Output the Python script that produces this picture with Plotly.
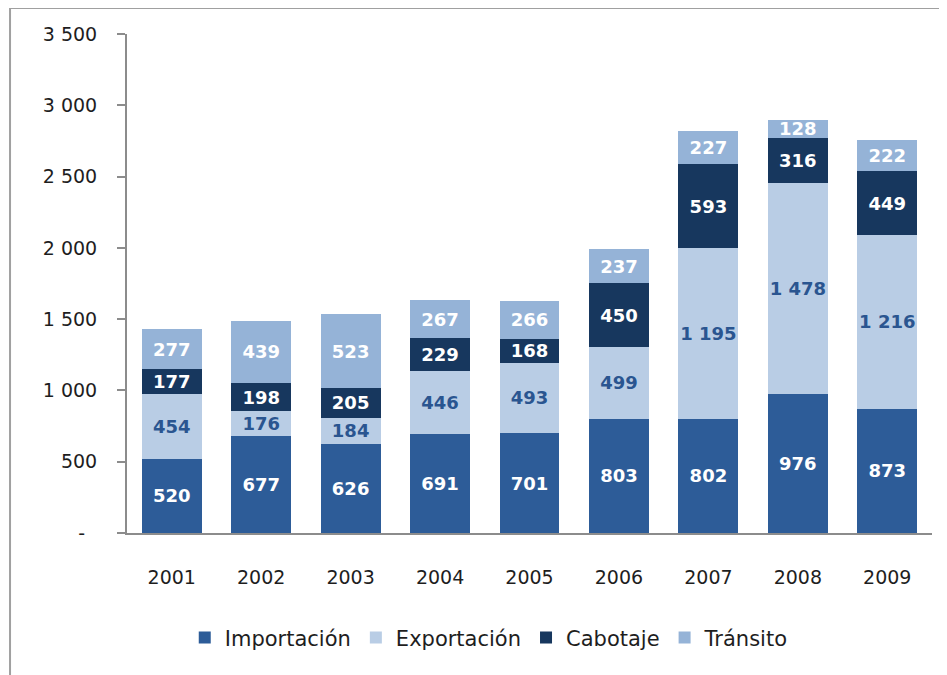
import plotly.graph_objects as go

years = ["2001", "2002", "2003", "2004", "2005", "2006", "2007", "2008", "2009"]
importacion = [520, 677, 626, 691, 701, 803, 802, 976, 873]
exportacion = [454, 176, 184, 446, 493, 499, 1195, 1478, 1216]
cabotaje = [177, 198, 205, 229, 168, 450, 593, 316, 449]
transito = [277, 439, 523, 267, 266, 237, 227, 128, 222]

y_ticks = [0, 500, 1000, 1500, 2000, 2500, 3000, 3500]
y_ticktext = ["-\u00a0\u00a0", "500", "1 000", "1 500", "2 000", "2 500", "3 000", "3 500"]


def fmt(v):
    # thousands separated by a space, as in the source
    return f"{v:,}".replace(",", " ")


series = [
    ("Importación", importacion, "#2D5C98", "white"),
    ("Exportación", exportacion, "#B9CDE5", "#2A5590"),
    ("Cabotaje", cabotaje, "#17375E", "white"),
    ("Tránsito", transito, "#95B3D7", "white"),
]

fig = go.Figure()
for name, vals, color, tcolor in series:
    fig.add_trace(go.Bar(
        name=name, x=years, y=vals,
        marker=dict(color=color, line=dict(width=0)),
        text=[fmt(v) for v in vals],
        textposition="inside", insidetextanchor="middle", textangle=0,
        textfont=dict(family="DejaVu Sans", size=18, color=tcolor, weight="bold"),
    ))

# page body has an 8px default margin, so the figure is a bit smaller
fig.update_layout(
    barmode="stack",
    bargap=0.33,
    width=939, height=667,
    margin=dict(l=119, r=15, t=26, b=142),
    paper_bgcolor="white", plot_bgcolor="white",
    font=dict(family="DejaVu Sans", size=19, color="#1E1E1E"),
    uniformtext=dict(minsize=18, mode="show"),
    showlegend=True,
    legend=dict(orientation="h", x=0.45, xanchor="center", y=-0.21, yanchor="middle",
                font=dict(size=21), itemsizing="constant", traceorder="normal",
                itemwidth=30),
    shapes=[dict(type="path", xref="paper", yref="paper",
                 path="M -0.1453,-0.29 L -0.1453,1.052 L 1.02,1.052",
                 line=dict(color="#A0A0A0", width=2))],
)
fig.update_xaxes(showline=True, linecolor="#8C8C8C", linewidth=2, ticks="",
                 ticklabelstandoff=26, tickfont=dict(size=19))
fig.update_yaxes(range=[0, 3500], tickvals=y_ticks, ticktext=y_ticktext,
                 showgrid=False, zeroline=False, showline=True, linecolor="#8C8C8C",
                 linewidth=2, ticks="outside", ticklen=8, tickcolor="#8C8C8C",
                 tickwidth=2, ticklabelstandoff=16, tickfont=dict(size=19))

fig.write_html("out.html")
